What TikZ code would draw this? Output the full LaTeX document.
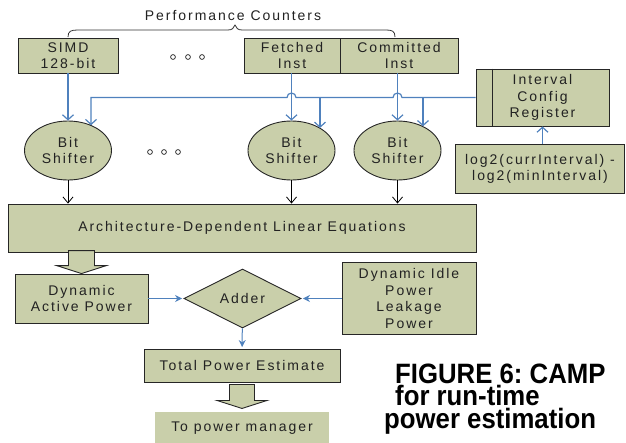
\documentclass[tikz,border=0pt]{standalone}
\usepackage{fontspec}
\setmainfont{Liberation Sans}
\newfontfamily\lbl[LetterSpace=14]{Liberation Sans}
\newfontfamily\capfont[FakeStretch=0.92]{Liberation Sans Bold}
\usetikzlibrary{arrows.meta,shapes.geometric,calc}
\definecolor{boxfill}{HTML}{C9CFAA}
\definecolor{txt}{HTML}{222222}
\definecolor{lblue}{RGB}{79,129,189}
\begin{document}
\frenchspacing
\begin{tikzpicture}[x=1pt,y=-1pt,
  lab/.style={font=\lbl\fontsize{14}{16.5}\selectfont, text=txt, align=center, inner sep=0pt},
  box/.style={lab, rectangle, draw=black!85, fill=boxfill, line width=0.9pt},
  shifter/.style={lab, ellipse, draw=black!85, fill=boxfill, line width=0.9pt, minimum width=87, minimum height=59},
  bline/.style={draw=lblue, line width=1.2pt},
  barrow/.style={bline, -{Straight Barb[length=5pt,width=11pt]}},
  karrow/.style={draw=black, line width=0.8pt, -{Straight Barb[length=6pt,width=10pt]}},
  farrow/.style={draw=lblue, line width=1pt, shorten >=1.5pt, -{Stealth[length=7pt,width=7pt]}},
  blk/.style={draw=black!85, fill=boxfill, line width=0.9pt},
  dot/.style={draw=black!80, line width=0.8pt},
  captxt/.style={font=\capfont\fontsize{28}{22.5}\selectfont, text=black, inner sep=0pt, align=left}
]
\useasboundingbox (0,0) rectangle (626,442);

% title and brace
\node[lab, anchor=base] (pc) at (233,20) {Performance Counters};
\draw[black!80, line width=0.8pt] (68,37) .. controls (68,31) and (71,30) .. (78,30) -- (228,30)
  .. controls (232,30) and (234,28) .. (235,25) .. controls (236,28) and (238,30) .. (242,30)
  -- (386,30) .. controls (392,30) and (395,31) .. (395,37);

% counters
\node[box, minimum width=100, minimum height=35] (simd) at (68,55.5) {SIMD\\128-bit};
\node[box, minimum width=96, minimum height=35] (fetch) at (292,55.5) {Fetched\\Inst};
\node[box, minimum width=118, minimum height=35] (commit) at (399,55.5) {Committed\\Inst};
\foreach \x in {173,188,202} \draw[dot] (\x,57) circle (2.4);

% interval register
\node[box, minimum width=133, minimum height=57] (icr) at (542.5,97.5) {Interval\\Config\\Register};
\draw[black!85, line width=0.9pt] ($(icr.north west)+(17,0)$) -- ($(icr.south west)+(17,0)$);
\node[box, minimum width=169, minimum height=49] (log2) at (540,169) {log2(currInterval) -\\log2(minInterval)};
\draw[barrow] (log2.north -| icr.south) -- (icr.south);

% shifters
\node[shifter] (e1) at (68,150.5) {Bit\\Shifter};
\node[shifter] (e2) at (291.5,150.5) {Bit\\Shifter};
\node[shifter] (e3) at (397.5,150.5) {Bit\\Shifter};
\foreach \x in {150,164,178} \draw[dot] (\x,152) circle (2.4);

\draw[barrow] (simd) -- (e1);
\draw[barrow] (fetch.south -| e2) -- (e2.north);
\draw[barrow] (commit.south -| e3) -- (e3.north);

\coordinate (j2) at (e2 |- icr.west);
\coordinate (j3) at (e3 |- icr.west);
\coordinate (c1) at ($(e1 |- icr.west)+(23,0)$);
\coordinate (c2) at ($(j2)+(28.5,0)$);
\coordinate (c3) at ($(j3)+(25.5,0)$);
\draw[barrow] (icr.west) -- ($(j3)+(4.5,0)$) arc[start angle=0, end angle=-180, radius=4.5]
  -- ($(j2)+(4.5,0)$) arc[start angle=0, end angle=-180, radius=4.5]
  -- (c1) -- (c1 |- e1.47);
\draw[barrow] (c2) -- (c2 |- e2.38);
\draw[barrow] (c3) -- (c3 |- e3.43);

% architecture equations
\node[box, minimum width=468, minimum height=48] (arch) at (242,228) {Architecture-Dependent Linear Equations};
\draw[karrow] (e1.south) -- (e1.south |- arch.north);
\draw[karrow] (e2.south) -- (e2.south |- arch.north);
\draw[karrow] (e3.south) -- (e3.south |- arch.north);

% lower part
\node[box, minimum width=133, minimum height=49] (dap) at (81.5,298.5) {Dynamic\\Active Power};
\node[lab, diamond, draw=black!85, fill=boxfill, line width=0.9pt, minimum width=117, minimum height=59] (adder) at (242.5,298.5) {Adder};
\node[box, minimum width=134, minimum height=72] (idle) at (409,298.5) {Dynamic Idle\\Power\\Leakage\\Power};
\node[box, minimum width=196, minimum height=33] (tot) at (242,365.5) {Total Power Estimate};
\node[lab, rectangle, fill=boxfill, minimum width=174, minimum height=32] (pm) at (242,428) {To power manager};

\filldraw[blk] (dap.north) -- ++(25,-8) -- ++(-12,0) -- ++(0,-15) -- ++(-26,0) -- ++(0,15) -- ++(-12,0) -- cycle;
\filldraw[blk] ($(tot.south)+(0,26)$) -- ++(25,-8) -- ++(-12.5,0) -- ++(0,-16) -- ++(-25,0) -- ++(0,16) -- ++(-12.5,0) -- cycle;

\draw[farrow] (dap) -- (adder);
\draw[farrow] (idle) -- (adder);
\draw[farrow] (adder) -- (tot);

% caption
\node[captxt, anchor=base west] (cap) at (384,428) {\hspace*{11pt}FIGURE 6: CAMP\\\hspace*{11pt}for run-time\\power estimation};
\end{tikzpicture}
\end{document}
